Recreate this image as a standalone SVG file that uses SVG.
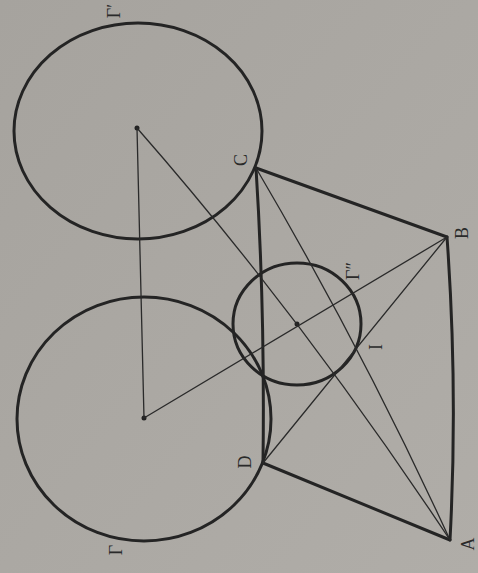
<svg xmlns="http://www.w3.org/2000/svg" width="478" height="573" viewBox="0 0 478 573">
<defs>
<linearGradient id="bg" x1="0" y1="0" x2="1" y2="1">
<stop offset="0" stop-color="#a6a39e"/>
<stop offset="1" stop-color="#b0ada8"/>
</linearGradient>
</defs>
<style>
.thick{fill:none;stroke:#242424;stroke-width:3;stroke-linecap:round;stroke-linejoin:round}
.thin{fill:none;stroke:#2a2a2a;stroke-width:1.3;stroke-linecap:round}
.circ{fill:none;stroke:#242424;stroke-width:3}
.dot{fill:#222}
.lbl{font-family:"Liberation Serif","DejaVu Serif",serif;font-size:18px;fill:#2a2a2a;text-anchor:middle;dominant-baseline:central}
</style>
<rect width="478" height="573" fill="url(#bg)"/>
<g id="circle-gamma-prime">
<ellipse class="circ" cx="138" cy="131" rx="124" ry="108"/>
<circle class="dot" cx="137" cy="128" r="2.5"/>
<text class="lbl" transform="translate(114,11) rotate(-90)">Γ′</text>
</g>
<g id="circle-gamma">
<ellipse class="circ" cx="144" cy="419" rx="127" ry="122"/>
<circle class="dot" cx="144" cy="418" r="2.5"/>
<text class="lbl" transform="translate(116,550) rotate(-90)">Γ</text>
</g>
<g id="circle-gamma-second">
<ellipse class="circ" cx="297" cy="324" rx="64" ry="61"/>
<circle class="dot" cx="297" cy="324" r="2.5"/>
<text class="lbl" transform="translate(353,271) rotate(-90)">Γ″</text>
</g>
<g id="connectors">
<path class="thick" d="M256,168 L447,237"/>
<path class="thick" d="M256,168 Q265,310 263,463"/>
<path class="thick" d="M263,463 L450,540"/>
<path class="thick" d="M447,237 Q458,390 450,540"/>
<path class="thin" d="M137,128 L144,418"/>
<path class="thin" d="M144,418 L447,237"/>
<path class="thin" d="M263,463 L447,237"/>
<path class="thin" d="M256,168 Q363,350 450,540"/>
<path class="thin" d="M137,128 Q300,314 450,540"/>
</g>
<g id="point-A"><text class="lbl" transform="translate(468,544) rotate(-90)">A</text></g>
<g id="point-B"><text class="lbl" transform="translate(462,233) rotate(-90)">B</text></g>
<g id="point-C"><text class="lbl" transform="translate(241,160) rotate(-90)">C</text></g>
<g id="point-D"><text class="lbl" transform="translate(245,462) rotate(-90)">D</text></g>
<g id="point-I"><text class="lbl" transform="translate(376,347) rotate(-90)">I</text></g>
</svg>
